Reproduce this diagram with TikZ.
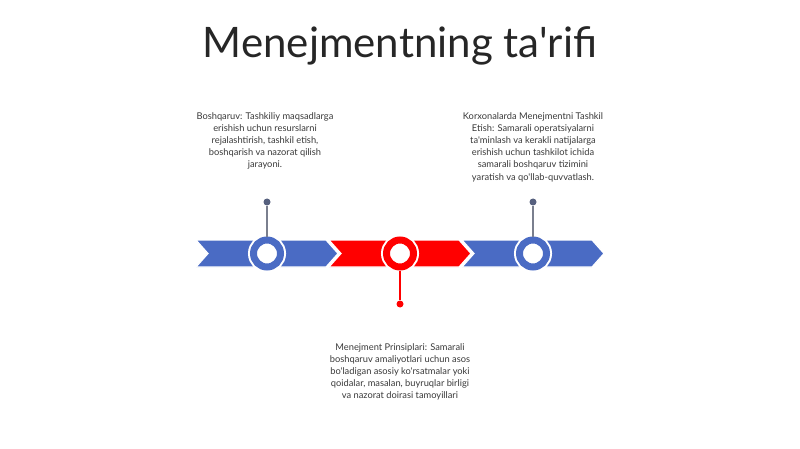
\documentclass[tikz,border=0pt]{standalone}
\usepackage{fontspec}
\setmainfont{Lato}[Ligatures=TeXOff]
\definecolor{cblue}{HTML}{4A6BC4}
\definecolor{cred}{HTML}{FF0000}
\definecolor{pingray}{HTML}{7A7F8E}
\definecolor{dotgray}{HTML}{56607E}
\definecolor{txt}{HTML}{3A3A3A}
\definecolor{ttl}{HTML}{262626}
\tikzset{
  chev/.style={fill=#1, draw=white, line width=1.2pt, line join=miter},
  ring/.style={circle, inner sep=0pt, minimum size=27pt, draw=#1, line width=7pt, fill=white,
    preaction={draw=white, line width=11pt}},
  pindot/.style={circle, inner sep=0pt, minimum size=7pt, fill=#1},
  pinline/.style={draw=#1, line width=1.1pt},
  desc/.style={align=center, text=txt, font=\fontsize{9.3}{12.2}\selectfont, inner sep=0pt},
}
\newcommand{\chevshape}[2]{% center x, color
  \path[chev=#2] ({#1-71},240) -- ({#1+59},240) -- ({#1+71},253.5) -- ({#1+59},267) -- ({#1-71},267) -- ({#1-59},253.5) -- cycle;
}
\begin{document}
\begin{tikzpicture}[x=1pt,y=-1pt]
\useasboundingbox[fill=white] (0,0) rectangle (800,449);
\node[text=ttl, font=\fontsize{42}{50}\selectfont, inner sep=0pt] (title) at (400,46) {Menejmentning ta'rifi};

\chevshape{267}{cblue}
\chevshape{400}{cred}
\chevshape{533}{cblue}

\node[ring=cblue] (c1) at (267,253.5) {};
\node[ring=cred] (c2) at (400,253.5) {};
\node[ring=cblue] (c3) at (533,253.5) {};

\node[pindot=dotgray] (d1) at (267,202) {};
\node[pindot=cred] (d2) at (400,304) {};
\node[pindot=dotgray] (d3) at (533,202) {};

\draw[pinline=pingray] (d1) -- (c1.north);
\draw[pinline=cred] (c2.south) -- (d2);
\draw[pinline=pingray] (d3) -- (c3.north);

\node[desc, anchor=north] (t1) at (265,112) {Boshqaruv: Tashkiliy maqsadlarga\\erishish uchun resurslarni\\rejalashtirish, tashkil etish,\\boshqarish va nazorat qilish\\jarayoni.};
\node[desc, anchor=north] (t3) at (533,112) {Korxonalarda Menejmentni Tashkil\\Etish: Samarali operatsiyalarni\\ta'minlash va kerakli natijalarga\\erishish uchun tashkilot ichida\\samarali boshqaruv tizimini\\yaratish va qo'llab-quvvatlash.};
\node[desc, anchor=north] (t2) at (400,343) {Menejment Prinsiplari: Samarali\\boshqaruv amaliyotlari uchun asos\\bo'ladigan asosiy ko'rsatmalar yoki\\qoidalar, masalan, buyruqlar birligi\\va nazorat doirasi tamoyillari};
\end{tikzpicture}
\end{document}
